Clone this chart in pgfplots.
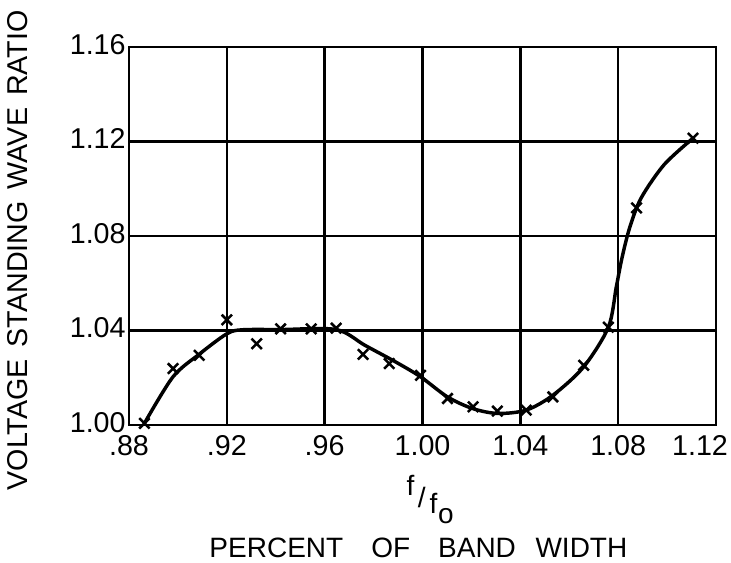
\documentclass[border=0pt]{standalone}
\usepackage{fontspec}
\setmainfont{Liberation Sans}
\usepackage{pgfplots}
\pgfplotsset{compat=1.18}

\begin{document}
\begin{tikzpicture}
\begin{axis}[
  scale only axis,
  width=440.25pt, height=283.5pt,
  xmin=0.88, xmax=1.12, ymin=1.00, ymax=1.16,
  xtick={0.88,0.92,0.96,1.00,1.04,1.08},
  xticklabels={.88,.92,.96,1.00,1.04,1.08},
  extra x ticks={1.12},
  extra x tick labels={1.12},
  extra x tick style={xticklabel style={xshift=-12pt}},
  ytick={1.00,1.04,1.08,1.12,1.16},
  yticklabels={1.00,1.04,1.08,1.12,1.16},
  grid=major,
  major grid style={black, line width=1.8pt},
  axis line style={line width=2pt},
  major tick length=0pt,
  tick label style={font=\fontsize{21.5}{24}\selectfont},
  xticklabel style={yshift=-4pt},
  yticklabel style={xshift=1pt, yshift=2pt},
  xlabel={\raisebox{9pt}{f}\kern2.5pt/\kern3pt\raisebox{-5pt}{f\kern0.5pt\raisebox{-7pt}{o}}},
  xlabel style={font=\fontsize{21}{23}\selectfont, at={(axis description cs:0.513,-0.196)}, anchor=center},
  ylabel={VOLTAGE\hspace{0.42em}STANDING\hspace{0.42em}WAVE\hspace{0.42em}RATIO},
  ylabel style={font=\fontsize{21.5}{24}\selectfont, at={(axis description cs:-0.19,0.462)}, anchor=center, rotate=0},
  clip=false,
]
\addplot[smooth, tension=0.5, line width=2.6pt] coordinates {
(0.8863,1.0007) (0.898,1.0204) (0.909,1.0302) (0.920,1.0386) (0.9263,1.0403)
(0.942,1.0404) (0.9647,1.0404) (0.9765,1.0337) (0.989,1.0267) (0.9992,1.0204)
(1.0102,1.0119) (1.0204,1.0070) (1.0306,1.0049) (1.0424,1.0063) (1.0533,1.0126)
(1.0659,1.0246) (1.076,1.0414) (1.0792,1.0582) (1.0816,1.0709) (1.0847,1.0835)
(1.0894,1.0961) (1.0988,1.1102) (1.1106,1.1214)
};
\addplot[only marks, mark=x, mark size=5.5pt, line width=1.9pt] coordinates {
(0.8863,1.0007) (0.898,1.0239) (0.9087,1.0295) (0.920,1.0445) (0.9322,1.0344)
(0.942,1.0407) (0.9545,1.0407) (0.9647,1.0410) (0.9757,1.0299) (0.9864,1.0260)
(0.9992,1.0210) (1.0102,1.0112) (1.0207,1.0077) (1.0306,1.0059) (1.0424,1.0063)
(1.0533,1.0119) (1.0659,1.0253) (1.076,1.0414) (1.0875,1.0919) (1.1106,1.1214)
};
\node[font=\fontsize{21}{23}\selectfont, anchor=center] at (axis description cs:0.493,-0.325)
  {PERCENT\hspace{1em}OF\hspace{1em}BAND\hspace{0.7em}WIDTH};
\end{axis}
\pgfresetboundingbox
\path (-96.75pt,-103.5pt) rectangle (451.5pt,318.75pt);
\end{tikzpicture}
\end{document}
